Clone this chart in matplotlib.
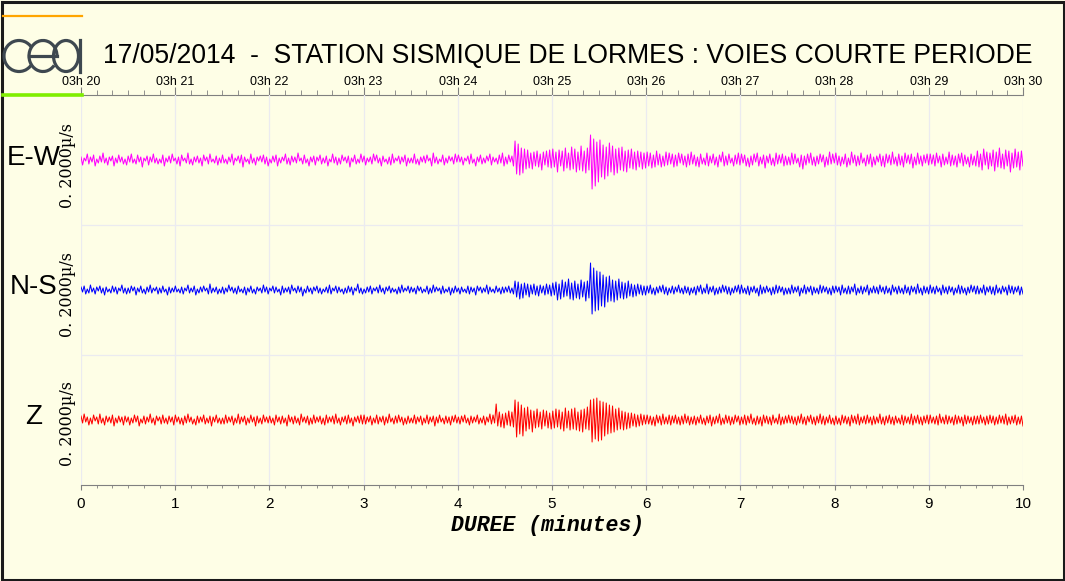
import numpy as np
import matplotlib.pyplot as plt
from matplotlib.patches import Arc, Rectangle

plt.rcParams['font.family'] = ['Liberation Sans', 'DejaVu Sans']

# sample amplitudes (pixels, + = up), 30 samples per half minute
ew = [3,-5,2,-1,6,-4,3,-2,5,-6,1,-3,4,-2,7,-3,2,-5,3,-1,4,-6,2,-3,5,-2,3,-4,1,-5,
      4,-2,6,-3,1,-4,5,-2,3,-7,2,-1,4,-5,3,-2,6,-3,2,-4,1,-3,5,-6,2,-2,4,-3,6,-1,
      2,-4,3,-6,5,-1,2,-3,7,-4,1,-5,3,-2,4,-3,2,-6,5,-1,3,-4,6,-2,1,-3,4,-5,2,-3,
      5,-3,1,-4,3,-2,6,-5,2,-1,4,-3,5,-7,3,-2,1,-4,6,-3,2,-5,3,-1,4,-2,5,-4,3,-6,
      1,-3,4,-2,5,-6,2,-3,3,-1,6,-4,2,-5,4,-2,3,-3,7,-1,2,-4,5,-3,1,-6,3,-2,4,-5,
      3,-1,5,-4,2,-3,4,-6,1,-2,6,-3,3,-5,2,-4,5,-1,3,-3,4,-7,2,-2,5,-4,1,-3,6,-2,
      4,-5,2,-2,3,-4,6,-1,5,-3,2,-6,4,-2,1,-4,3,-5,6,-3,2,-1,4,-4,3,-2,5,-6,2,-3,
      2,-3,6,-4,1,-5,3,-2,4,-3,5,-1,2,-6,7,-3,3,-4,1,-2,5,-5,2,-3,4,-1,3,-4,6,-2,
      5,-2,3,-5,2,-1,4,-4,6,-3,1,-6,3,-2,5,-4,2,-3,4,-1,6,-5,3,-2,2,-4,5,-3,7,-6,
      3,-4,5,-2,4,-6,19,-14,16,-15,12,-13,11,-9,10,-8,7,-9,8,-6,9,-7,6,-10,8,-5,9,-7,10,-8,
      11,-7,8,-12,10,-6,9,-11,12,-8,7,-10,13,-9,11,-12,8,-10,14,-11,9,-13,12,-10,25,-29,21,-26,18,-22,
      20,-17,15,-19,13,-16,17,-12,14,-15,11,-13,12,-10,13,-11,9,-12,10,-8,11,-9,8,-10,9,-7,8,-9,7,-8,
      8,-6,7,-8,5,-7,9,-5,6,-7,4,-6,8,-5,7,-4,6,-7,5,-6,7,-3,6,-5,4,-7,6,-5,8,-4,
      5,-6,3,-7,6,-4,2,-5,7,-6,4,-3,6,-5,3,-7,5,-2,8,-6,4,-5,6,-3,2,-6,5,-4,7,-5,
      6,-3,5,-6,2,-7,4,-5,6,-2,7,-6,3,-4,5,-8,4,-3,6,-5,2,-6,7,-4,5,-3,6,-6,4,-5,
      3,-5,7,-4,6,-3,2,-7,5,-9,4,-5,6,-3,7,-5,3,-6,4,-4,6,-2,5,-7,3,-5,8,-4,6,-3,
      7,-5,4,-6,3,-4,6,-7,2,-5,8,-3,5,-6,4,-5,7,-3,2,-6,5,-4,6,-7,3,-5,4,-2,6,-6,
      4,-7,6,-3,5,-5,8,-4,3,-6,6,-5,4,-7,7,-3,5,-4,6,-8,3,-5,7,-4,4,-6,5,-3,6,-5,
      6,-4,5,-6,7,-3,4,-7,6,-5,3,-4,8,-6,5,-5,4,-7,6,-3,7,-6,5,-4,3,-7,6,-5,4,-6,
      9,-7,6,-10,11,-5,8,-9,7,-6,10,-11,8,-7,12,-8,6,-9,10,-6,9,-12,7,-8,11,-7,8,-10,9,-6]

ns = [3,-2,4,-4,1,-3,5,-2,2,-4,3,-1,4,-3,2,-5,3,-2,1,-3,4,-2,3,-4,2,-1,5,-3,2,-4,
      2,-3,4,-1,3,-5,2,-2,4,-3,1,-4,3,-2,5,-3,2,-1,3,-4,2,-3,4,-2,1,-5,3,-3,2,-2,
      4,-2,1,-3,3,-4,2,-1,5,-3,2,-2,4,-5,1,-3,3,-2,4,-1,2,-4,6,-3,2,-2,3,-4,1,-3,
      3,-4,2,-2,5,-1,3,-3,2,-4,4,-2,1,-3,3,-5,2,-2,4,-3,1,-4,3,-1,2,-3,5,-2,3,-4,
      2,-1,4,-3,3,-2,1,-5,4,-3,2,-2,3,-4,5,-1,2,-3,4,-2,3,-6,1,-3,4,-2,2,-4,3,-1,
      4,-3,2,-4,1,-2,3,-3,5,-4,2,-1,4,-3,3,-2,1,-4,2,-3,4,-2,3,-5,2,-1,6,-3,2,-4,
      1,-3,3,-2,4,-4,2,-1,3,-3,5,-2,2,-4,3,-1,4,-3,2,-2,1,-4,3,-3,5,-2,2,-1,4,-3,
      3,-2,2,-4,4,-1,3,-3,1,-2,4,-4,2,-3,5,-2,3,-1,2,-4,4,-3,1,-2,3,-5,2,-3,4,-2,
      2,-4,3,-2,1,-3,4,-4,3,-2,2,-5,4,-1,3,-3,2,-2,5,-4,3,-2,1,-3,4,-2,2,-4,3,-3,
      3,-2,4,-3,2,-4,9,-7,8,-9,6,-8,7,-5,6,-7,5,-4,6,-5,4,-6,5,-3,4,-5,6,-4,5,-6,
      7,-5,8,-10,6,-9,10,-7,8,-6,11,-9,7,-10,9,-8,6,-9,10,-7,8,-11,9,-8,27,-24,22,-21,19,-20,
      18,-16,15,-17,13,-12,14,-11,10,-12,9,-10,11,-8,8,-9,7,-8,9,-6,6,-7,5,-6,6,-4,5,-5,4,-5,
      4,-3,5,-4,2,-5,3,-3,4,-2,5,-4,3,-5,2,-3,4,-4,3,-2,5,-3,2,-4,4,-3,3,-5,2,-3,
      3,-5,4,-2,5,-4,2,-3,6,-4,3,-2,4,-5,2,-4,3,-3,5,-2,4,-4,3,-5,2,-3,4,-2,5,-4,
      5,-3,2,-4,4,-5,3,-2,4,-3,2,-6,5,-4,3,-3,4,-2,2,-5,3,-4,5,-3,4,-2,3,-5,2,-4,
      2,-4,5,-3,3,-2,4,-6,2,-3,5,-4,3,-2,4,-5,3,-3,2,-4,5,-3,4,-2,3,-4,2,-5,4,-3,
      4,-2,3,-5,5,-3,2,-4,4,-4,3,-2,6,-5,2,-3,4,-4,3,-2,5,-5,2,-3,4,-3,3,-4,5,-2,
      3,-4,4,-3,2,-5,5,-2,3,-4,4,-3,2,-4,5,-3,3,-5,4,-2,3,-4,6,-3,2,-5,4,-3,3,-4,
      5,-3,3,-4,4,-2,2,-5,5,-3,3,-4,4,-2,3,-5,2,-3,5,-4,4,-3,2,-5,3,-3,5,-2,4,-4,
      4,-4,2,-3,5,-5,3,-2,4,-4,3,-5,5,-3,2,-4,4,-2,3,-5,5,-3,4,-4,3,-2,4,-5,3,-4]

zz = [4,-3,6,-2,3,-5,2,-4,5,-1,3,-4,6,-3,2,-5,4,-2,3,-3,5,-6,2,-3,4,-2,3,-5,4,-2,
      3,-5,2,-3,5,-2,4,-6,1,-3,4,-4,3,-2,6,-3,2,-5,4,-1,3,-4,5,-3,2,-4,4,-2,3,-5,
      5,-2,3,-4,2,-5,4,-3,6,-2,3,-4,1,-5,4,-3,3,-2,5,-4,2,-3,4,-6,3,-2,5,-3,2,-4,
      2,-4,5,-3,3,-2,4,-5,2,-3,6,-4,3,-2,4,-5,2,-3,5,-2,3,-6,4,-3,2,-4,5,-2,3,-3,
      4,-3,2,-5,5,-2,3,-4,4,-3,2,-6,5,-2,3,-4,4,-3,2,-5,6,-2,3,-3,4,-5,2,-4,5,-3,
      3,-2,4,-4,2,-5,5,-3,3,-2,4,-4,6,-3,2,-5,3,-2,4,-4,5,-3,2,-6,3,-2,4,-3,5,-4,
      5,-4,3,-2,4,-5,2,-3,5,-4,3,-2,4,-5,3,-3,6,-2,2,-4,4,-3,5,-2,3,-5,2,-4,4,-3,
      2,-3,5,-4,3,-2,4,-5,2,-3,5,-4,3,-2,4,-6,3,-3,5,-2,2,-4,4,-3,3,-5,4,-2,5,-3,
      3,-4,4,-2,5,-3,2,-5,4,-3,3,-2,5,-4,2,-3,4,-5,3,-2,6,-4,5,-3,16,-6,8,-7,6,-8,
      7,-5,9,-6,8,-7,20,-17,18,-14,15,-16,12,-11,13,-9,10,-12,9,-8,11,-7,8,-9,10,-6,9,-8,7,-9,
      9,-8,11,-7,10,-9,8,-11,12,-8,9,-10,11,-9,12,-10,8,-11,10,-12,11,-9,13,-10,20,-22,21,-19,22,-21,
      19,-20,18,-16,17,-14,15,-13,14,-12,11,-10,12,-9,9,-10,8,-9,7,-8,7,-6,6,-7,5,-6,6,-5,5,-4,
      5,-4,4,-5,3,-6,5,-3,4,-5,6,-4,3,-4,5,-5,4,-3,5,-4,3,-5,4,-4,6,-3,4,-5,3,-4,
      4,-5,3,-3,5,-4,2,-5,4,-3,5,-6,3,-4,4,-3,6,-5,2,-4,5,-3,4,-5,3,-4,5,-2,4,-5,
      3,-4,5,-5,4,-3,6,-4,2,-5,4,-4,3,-6,5,-3,4,-4,3,-5,5,-3,2,-4,6,-5,3,-4,4,-3,
      5,-3,4,-4,3,-5,4,-3,6,-4,3,-5,4,-2,5,-4,3,-5,4,-3,6,-4,4,-5,3,-3,5,-4,2,-5,
      4,-4,2,-5,5,-3,4,-4,3,-6,5,-3,4,-4,6,-5,3,-3,4,-4,5,-3,3,-5,4,-4,3,-3,6,-4,
      3,-5,4,-3,5,-4,3,-5,4,-3,2,-4,5,-5,4,-3,3,-4,6,-5,4,-3,5,-4,3,-5,4,-3,5,-4,
      5,-3,3,-4,4,-5,6,-3,3,-4,5,-4,4,-3,3,-5,5,-4,4,-3,3,-6,5,-4,4,-3,3,-5,4,-4,
      4,-4,5,-3,3,-5,4,-4,5,-3,4,-5,3,-4,5,-3,4,-4,6,-5,3,-4,4,-3,5,-5,3,-4,4,-6]

channels = ['E-W', 'N-S', 'Z']
colors = ['#ff00ff', '#0000ff', '#ff0000']
top_labels = ['03h %d' % (20 + m) for m in range(11)]
title = '17/05/2014  -  STATION SISMIQUE DE LORMES : VOIES COURTE PERIODE'

bg = '#fefee6'
gray = '#808080'

fig = plt.figure(figsize=(10.65, 5.81), dpi=100, facecolor=bg)
ax = fig.add_axes([81/1065, 96/581, 942/1065, 390/581], facecolor=bg)

for i, (vals, col) in enumerate(zip([ew, ns, zz], colors)):
    t = np.linspace(0, 10, len(vals))
    y0 = 2.5 - i
    ax.plot(t, y0 + np.array(vals) / 130.0, color=col, lw=0.75, zorder=3)

ax.set_xlim(0, 10)
ax.set_ylim(0, 3)
ax.set_xticks(range(11))
ax.set_xticks(np.arange(0, 10.01, 1/6), minor=True)
ax.set_yticks([1, 2])
ax.set_yticklabels([])
ax.tick_params(axis='y', length=0)
ax.tick_params(axis='x', which='major', length=3.6, color=gray, labelsize=11, pad=5)
ax.tick_params(axis='x', which='minor', length=2.2, color=gray)
ax.grid(True, color='#ebebf0', lw=0.9, zorder=0)
for s in ['left', 'right', 'top']:
    ax.spines[s].set_visible(False)
ax.spines['bottom'].set_color(gray)

sec = ax.secondary_xaxis('top')
sec.set_xticks(range(11), labels=top_labels)
sec.set_xticks(np.arange(0, 10.01, 1/6), minor=True)
sec.tick_params(which='major', length=6, color=gray, labelsize=9, pad=-1)
sec.tick_params(which='minor', length=3.5, color=gray)
sec.spines['top'].set_color(gray)

# overlay in pixel coordinates for title, labels and logo
ov = fig.add_axes([0, 0, 1, 1])
ov.set_xlim(0, 1065)
ov.set_ylim(581, 0)
ov.axis('off')

ov.add_patch(Rectangle((1.5, 1.5), 1062, 578, fill=False, lw=2.2, ec='#1a1a1a'))
ov.text(103, 56, title, fontsize=19.1, ha='left', va='center')

for i, name in enumerate(channels):
    yc = 160 + i * 129.5
    ov.text(34, yc - 2, name, fontsize=20, ha='center', va='center')
    ov.text(68, yc + 5, '0. 2000\u00b5/s', rotation=90, family='DejaVu Serif',
            fontsize=11.5, ha='center', va='center')

ov.text(548, 526, 'DUREE (minutes)', family='Liberation Mono', weight='bold',
        style='italic', fontsize=15.5, ha='center', va='center')

# cea logo
logo = '#3e4850'
ov.plot([3, 82], [16, 16], color='#ffa500', lw=1.6)
ov.plot([3, 82], [95, 95], color='#80ee00', lw=2.6)
ov.add_patch(Arc((19, 56), 30, 31, theta1=38, theta2=322, lw=2.3, color=logo))
ov.add_patch(Arc((43, 56), 28, 31, theta1=40, theta2=360, lw=2.3, color=logo))
ov.plot([29, 57], [56, 56], color=logo, lw=2.3)
ov.add_patch(Arc((66, 56), 25, 31, lw=2.3, color=logo))
ov.plot([79.5, 79.5], [40, 72], color=logo, lw=2.3)

fig.savefig('out.png', dpi=100, facecolor=bg)
